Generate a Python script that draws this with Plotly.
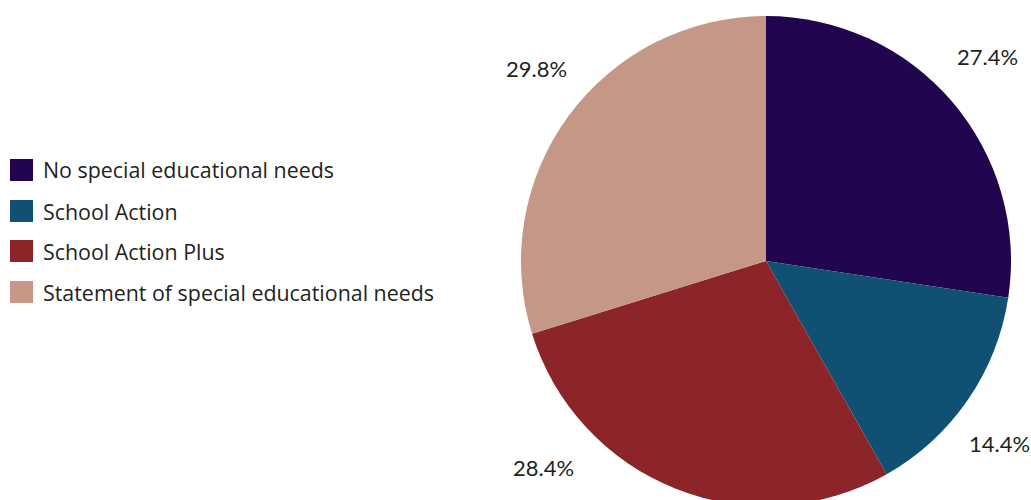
import plotly.graph_objects as go

# Pupil categories and their shares (%)
categories = [
    "No special educational needs",
    "School Action",
    "School Action Plus",
    "Statement of special educational needs",
]
shares = [27.4, 14.4, 28.4, 29.8]
colors = ["#22054f", "#105173", "#8b2529", "#c59786"]

W, H = 1031, 510
LABEL_FONT = "Lato"
LEGEND_FONT = "Open Sans"
TEXT_COLOR = "#231f20"

def px(x):
    return x / W

def py(y):
    return 1 - y / H

fig = go.Figure()

# Pie: 245 px radius centred at (766, 261)
cx, cy, r = 766, 261, 245
fig.add_trace(go.Pie(
    labels=categories,
    values=shares,
    sort=False,
    direction="clockwise",
    rotation=0,
    marker=dict(colors=colors, line=dict(width=0)),
    textinfo="none",
    hoverinfo="label+percent",
    showlegend=False,
    domain=dict(x=[px(cx - r), px(cx + r)], y=[py(cy + r), py(cy - r)]),
))

# Percentage labels placed around the pie
label_pos = [(987, 56), (999, 443), (543, 467), (536, 69)]
for v, (lx, ly) in zip(shares, label_pos):
    fig.add_annotation(
        x=px(lx), y=py(ly), xref="paper", yref="paper",
        text=f"{v:.1f}%", showarrow=False,
        xanchor="center", yanchor="middle",
        font=dict(family=LABEL_FONT, size=22, color=TEXT_COLOR),
    )

# Legend drawn as swatches and text
row_y = [170, 211, 251, 292]
for name, col, ry in zip(categories, colors, row_y):
    fig.add_shape(
        type="rect", xref="paper", yref="paper",
        x0=px(10), x1=px(33), y0=py(ry + 11), y1=py(ry - 11),
        fillcolor=col, line=dict(width=0),
    )
    fig.add_annotation(
        x=px(41), y=py(ry), xref="paper", yref="paper",
        text=name, showarrow=False,
        xanchor="left", yanchor="middle",
        font=dict(family=LEGEND_FONT, size=21.4, color=TEXT_COLOR),
    )

fig.update_layout(
    width=W, height=H,
    margin=dict(l=0, r=0, t=0, b=0),
    paper_bgcolor="white",
    plot_bgcolor="white",
)

fig.write_html(
    "out.html",
    post_script="document.documentElement.style.overflow='hidden';document.body.style.overflow='hidden';",
)
